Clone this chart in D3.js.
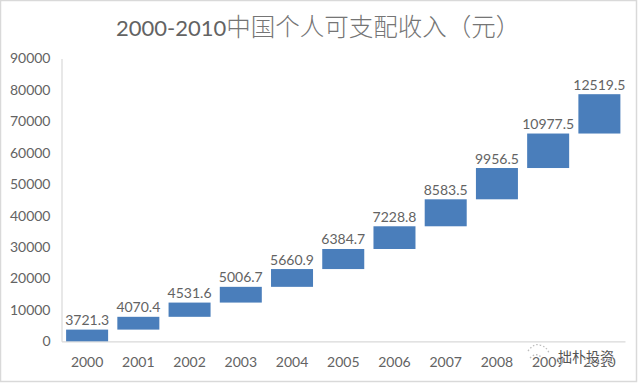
<!DOCTYPE html>
<html>
<head>
<meta charset="utf-8">
<script src="https://cdn.jsdelivr.net/npm/d3@7"></script>
<style>
  html, body { margin: 0; padding: 0; background: #fff; }
  text { font-family: Lato, "Noto Sans CJK SC", sans-serif; fill: #636363; }
</style>
</head>
<body>
<svg id="chart" width="638" height="383"></svg>
<script>
const years = ["2000","2001","2002","2003","2004","2005","2006","2007","2008","2009","2010"];
const income = [3721.3,4070.4,4531.6,5006.7,5660.9,6384.7,7228.8,8583.5,9956.5,10977.5,12519.5];
const yTicks = [0,10000,20000,30000,40000,50000,60000,70000,80000,90000];

const svg = d3.select("#chart"),
      width = +svg.attr("width"),
      height = +svg.attr("height");

// chart frame
svg.append("rect")
  .attr("x", 0.5).attr("y", 0.5)
  .attr("width", width - 2).attr("height", height - 2)
  .attr("fill", "#fff")
  .attr("stroke", "#d9d9d9")
  .attr("stroke-width", 1.5);

const x = d3.scaleBand()
  .domain(years)
  .range([61.5, 625])
  .paddingInner(0.18)
  .paddingOuter(0.09);

const y = d3.scaleLinear()
  .domain([0, 90000])
  .range([341.3, 58.5]);

// stacked: each bar starts where the previous one ended
const tops = d3.cumsum(income);
const bars = years.map((year, i) => ({ year, value: income[i], base: tops[i] - income[i], top: tops[i] }));

// axes
const yAxis = svg.append("g")
  .attr("transform", "translate(61.5,0)")
  .call(d3.axisLeft(y).tickValues(yTicks).tickFormat(d3.format("d")).tickSize(0).tickPadding(11));
yAxis.select(".domain").attr("stroke", "#d9d9d9").attr("stroke-width", 1.2);
yAxis.selectAll("text").style("font-size", "14px");

const xAxis = svg.append("g")
  .attr("transform", "translate(0,341.3)")
  .call(d3.axisBottom(x).tickSize(0).tickPadding(16));
xAxis.select(".domain").attr("stroke", "#d9d9d9").attr("stroke-width", 1.2);
xAxis.selectAll("text").style("font-size", "14px");

// bars
svg.selectAll("rect.bar")
  .data(bars)
  .enter().append("rect")
    .attr("class", "bar")
    .attr("x", d => x(d.year))
    .attr("y", d => y(d.top))
    .attr("width", x.bandwidth())
    .attr("height", d => y(d.base) - y(d.top))
    .attr("fill", "#4a7ebb");

// value labels
svg.selectAll("text.value")
  .data(bars)
  .enter().append("text")
    .attr("class", "value")
    .attr("x", d => x(d.year) + x.bandwidth() / 2)
    .attr("y", d => y(d.top) - 4.5)
    .attr("text-anchor", "middle")
    .style("font-size", "14px")
    .text(d => d.value);

// title: latin part is heavier than the thin CJK part
const title = svg.append("text")
  .attr("x", 116)
  .attr("y", 36);
title.append("tspan")
  .style("font-size", "22px")
  .text("2000-2010");
title.append("tspan")
  .style("font-size", "24.5px")
  .style("font-weight", 300)
  .style("fill", "#757575")
  .text("中国个人可支配收入（元）");

// watermark icon
svg.append("path")
  .attr("d", "M528 351 Q534 343 540 345 Q547 347 549 353 M530 358 Q536 352 541 357")
  .attr("fill", "none")
  .attr("stroke", "#bdbdbd")
  .attr("stroke-width", 1.3)
  .attr("stroke-dasharray", "1.5 2");

// watermark
svg.append("text")
  .attr("x", 558)
  .attr("y", 362)
  .style("font-size", "14px")
  .style("fill", "#555")
  .style("paint-order", "stroke")
  .style("stroke", "#fff")
  .style("stroke-width", 1)
  .text("拙朴投资");
</script>
</body>
</html>
